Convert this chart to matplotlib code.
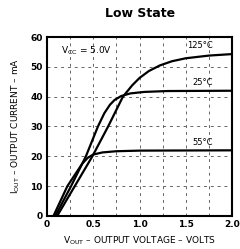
import matplotlib
matplotlib.use("Agg")
import matplotlib.pyplot as plt
import numpy as np

# Data
v_m55 = [0.07, 0.22, 0.38, 0.44, 0.50, 0.60, 0.75, 1.0, 2.0]
i_m55 = [0.0, 10.0, 17.5, 19.5, 20.6, 21.3, 21.7, 21.9, 22.0]
v_25 = [0.09, 0.26, 0.42, 0.55, 0.62, 0.68, 0.73, 0.80, 0.90, 1.05, 1.3, 2.0]
i_25 = [0.0, 10.0, 20.0, 30.0, 34.5, 37.3, 38.9, 40.2, 41.1, 41.6, 41.9, 42.0]
v_125 = [0.11, 0.30, 0.49, 0.66, 0.82, 0.92, 1.0, 1.1, 1.22, 1.35, 1.5, 1.75, 2.0]
i_125 = [0.0, 10.0, 20.0, 30.0, 40.0, 43.8, 46.3, 48.6, 50.5, 51.9, 52.9, 53.8, 54.3]
curve_labels = ["125°C", "25°C", "55°C"]
x_ticks = [0, 0.5, 1.0, 1.5, 2.0]
x_ticklabels = ["0", "0.5", "1.0", "1.5", "2.0"]
y_ticks = [0, 10, 20, 30, 40, 50, 60]

fig = plt.figure(figsize=(2.40, 2.49), dpi=100)
ax = fig.add_axes([0.196, 0.133, 0.771, 0.718])
ax.set_xlim(0, 2.0)
ax.set_ylim(0, 60)

for xv in np.arange(0.25, 2.0, 0.25):
    ax.axvline(xv, color="#666666", lw=0.7, ls=(0, (3, 4)), zorder=1)
for yv in y_ticks[1:-1]:
    ax.axhline(yv, color="#666666", lw=0.7, ls=(0, (3, 4)), zorder=1)

ax.plot(v_m55, i_m55, color="black", lw=1.6, zorder=3)
ax.plot(v_25, i_25, color="black", lw=1.6, zorder=3)
ax.plot(v_125, i_125, color="black", lw=1.6, zorder=3)

ax.text(1.65, 55.8, curve_labels[0], fontsize=6, ha="center", va="bottom")
ax.text(1.68, 43.2, curve_labels[1], fontsize=6, ha="center", va="bottom")
ax.text(1.68, 23.2, curve_labels[2], fontsize=6, ha="center", va="bottom")
ax.text(0.15, 55.5, r"V$_{\mathregular{CC}}$ = 5.0V", fontsize=6.5, ha="left", va="center")

ax.set_xticks(x_ticks)
ax.set_xticklabels(x_ticklabels, fontsize=6.5, fontweight="bold")
ax.set_yticks(y_ticks)
ax.set_yticklabels([str(t) for t in y_ticks], fontsize=6.5, fontweight="bold")
ax.tick_params(length=0, pad=3)
for s in ax.spines.values():
    s.set_linewidth(1.5)

ax.set_xlabel(r"V$_{\mathregular{OUT}}$ – OUTPUT VOLTAGE – VOLTS", fontsize=6.5, labelpad=4)
ax.set_ylabel(r"I$_{\mathregular{OUT}}$ – OUTPUT CURRENT – mA", fontsize=6.5, labelpad=6)
fig.text(0.583, 0.945, "Low State", fontsize=9, fontweight="bold", ha="center", va="center")

fig.savefig("out.png", dpi=100)
